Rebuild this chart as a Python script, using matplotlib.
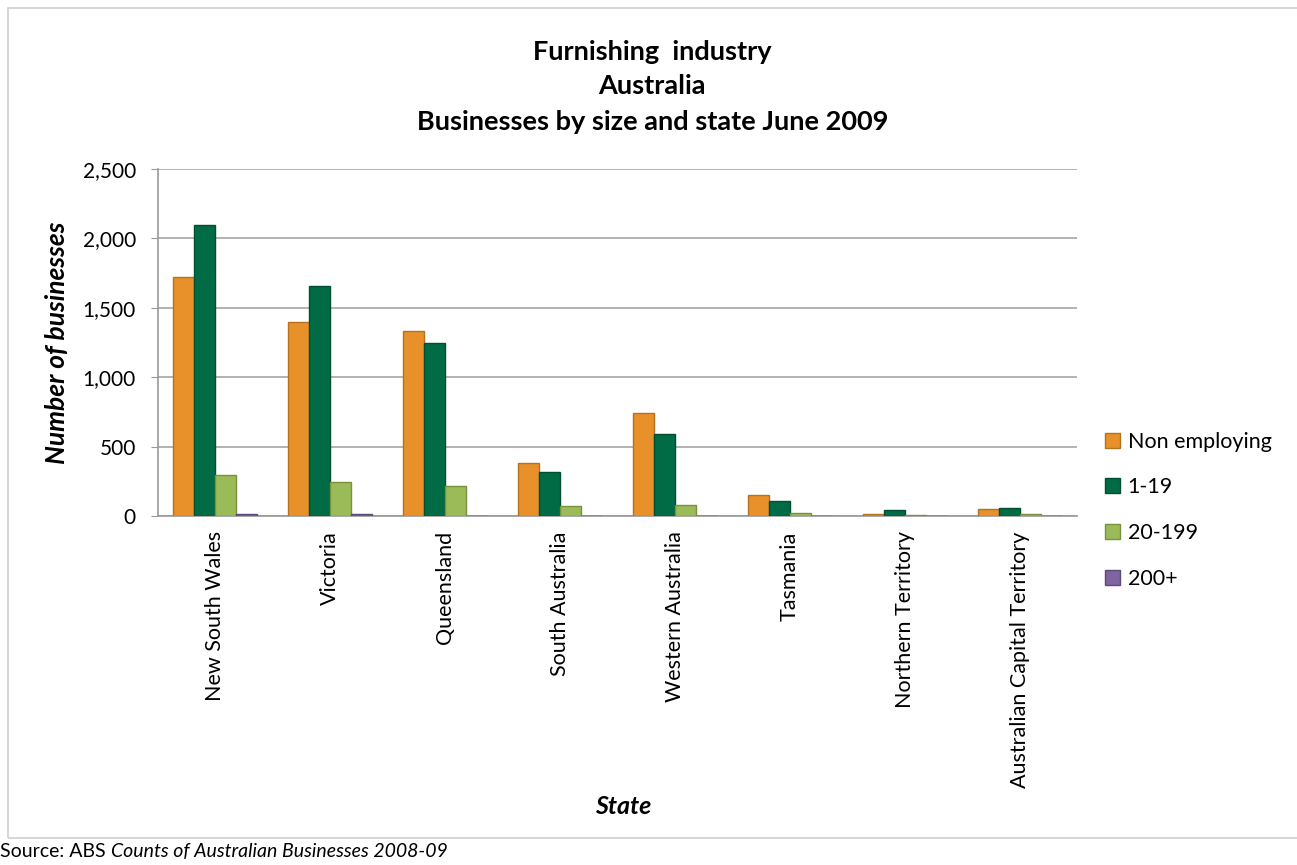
import numpy as np
import matplotlib.pyplot as plt
from matplotlib.patches import Rectangle

plt.rcParams['font.family'] = ['Lato', 'DejaVu Sans']

states = ["New South Wales", "Victoria", "Queensland", "South Australia",
          "Western Australia", "Tasmania", "Northern Territory",
          "Australian Capital Territory"]
non_employing = [1720, 1400, 1330, 380, 745, 148, 17, 50]
emp_1_19 = [2100, 1655, 1245, 315, 592, 110, 45, 55]
emp_20_199 = [292, 247, 213, 70, 81, 22, 4, 14]
emp_200_plus = [12, 12, 3, 3, 0, 0, 0, 0]

series = [
    ("Non employing", non_employing, "#E8912A", "#B5711E"),
    ("1-19", emp_1_19, "#006B45", "#00502F"),
    ("20-199", emp_20_199, "#9BBB59", "#76923C"),
    ("200+", emp_200_plus, "#8064A2", "#5F497A"),
]

fig = plt.figure(figsize=(12.97, 8.65), dpi=100)
ax = fig.add_axes([0.1218, 0.4035, 0.7086, 0.4011])

x = np.arange(len(states))
width = 0.183
for i, (label, vals, fc, ec) in enumerate(series):
    ax.bar(x + (i - 1.5) * width, vals, width, color=fc, edgecolor=ec,
           linewidth=1.0, label=label, zorder=3)

ax.set_xlim(-0.5, len(states) - 0.5)
ax.set_ylim(0, 2500)
ax.set_yticks(np.arange(0, 2501, 500))
ax.set_yticklabels([f"{v:,}" for v in range(0, 2501, 500)], fontsize=15)
ax.set_xticks(x)
ax.set_xticklabels(states, rotation=90, fontsize=15.5)
ax.tick_params(axis='x', length=0, pad=11)
ax.tick_params(axis='y', length=5, color='#999999', pad=11)
ax.yaxis.grid(True, color='#A6A6A6', linewidth=1.2, zorder=0)
for side in ['top', 'right']:
    ax.spines[side].set_visible(False)
for side in ['left', 'bottom']:
    ax.spines[side].set_color('#999999')
    ax.spines[side].set_linewidth(1.2)

ax.set_ylabel("Number of businesses", fontsize=19, fontweight='bold',
              fontstyle='italic', labelpad=10)
fig.text(0.4803, 0.068, "State", fontsize=18, fontweight='bold',
         fontstyle='italic', ha='center', va='center')

fig.text(0.503, 0.900, "Furnishing  industry\nAustralia\nBusinesses by size and state June 2009",
         fontsize=19.5, fontweight='bold', ha='center', va='center', linespacing=1.55)

fig.legend(loc='center left', bbox_to_anchor=(0.837, 0.41), frameon=False,
           fontsize=15.5, handlelength=0.7, handleheight=0.7, handletextpad=0.35,
           labelspacing=1.2)

# source line: plain prefix followed by italic title
src = fig.text(0.0, 0.016, "Source: ABS ", fontsize=14, ha='left', va='center')
fig.canvas.draw()
bb = src.get_window_extent().transformed(fig.transFigure.inverted())
fig.text(bb.x1, 0.016, "Counts of Australian Businesses 2008-09", fontsize=14,
         fontstyle='italic', ha='left', va='center')

fig.patches.append(Rectangle((0.006, 0.031), 1.0, 0.96, transform=fig.transFigure,
                             fill=False, edgecolor='#D0D0D0', linewidth=1.2))

fig.savefig("out.png", dpi=100)
